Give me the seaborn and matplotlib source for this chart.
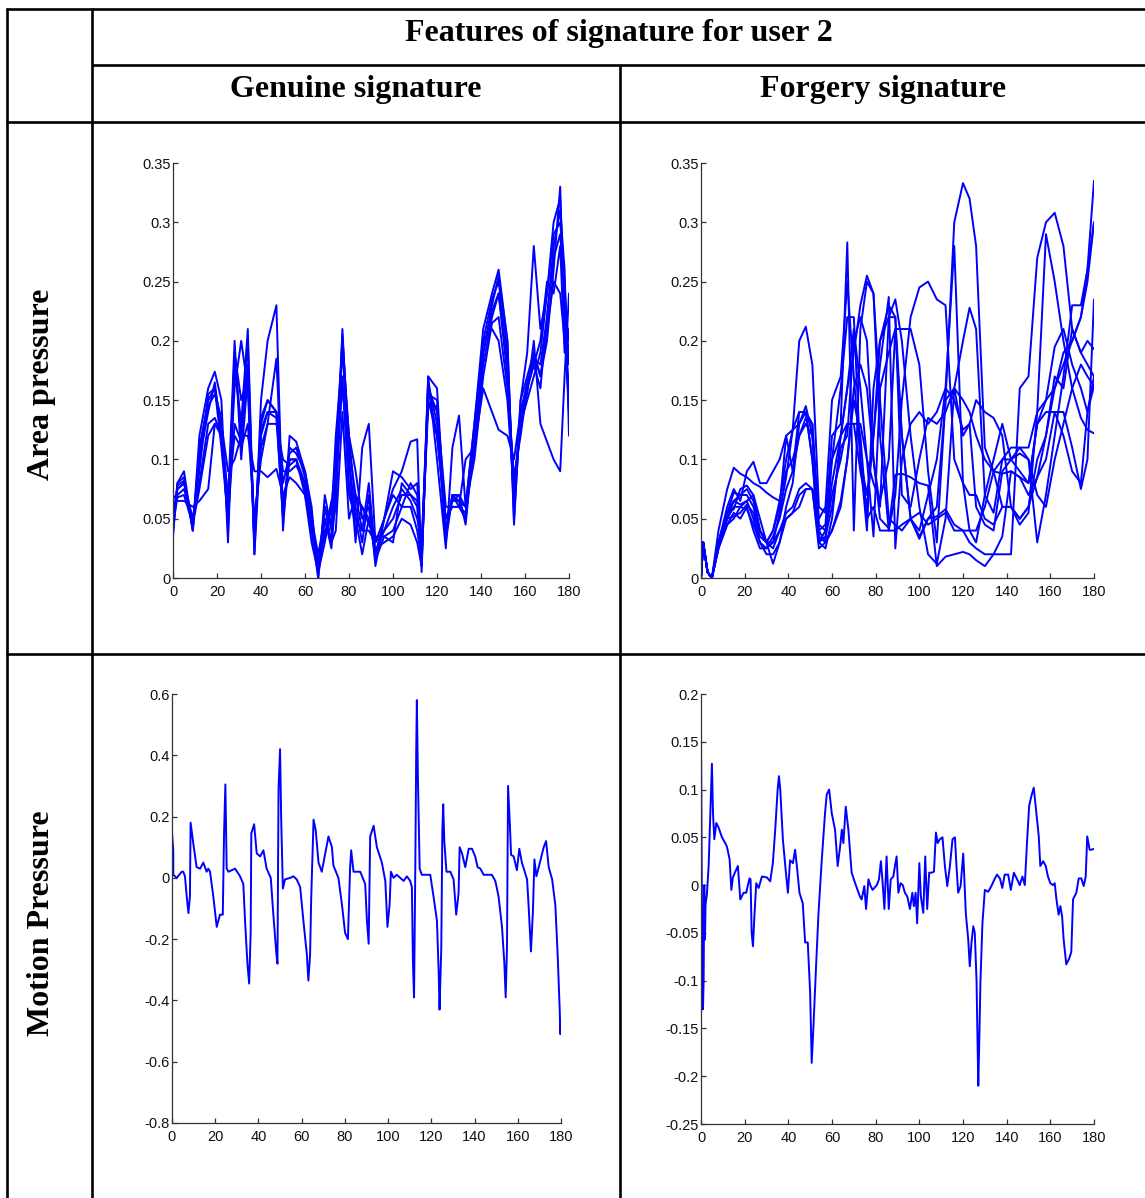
import numpy as np
import pandas as pd
import matplotlib
matplotlib.use("Agg")
import matplotlib.pyplot as plt
from matplotlib import font_manager
import seaborn as sns

sns.set_theme(style="white")
plt.rcParams["font.family"] = ["Liberation Sans", "DejaVu Sans"]
plt.rcParams["text.color"] = "black"

# ---------------------------------------------------------------------------
# Area pressure, genuine signatures (8 samples on a shared time grid)
genuine_area_x = [0, 2, 5, 9, 12, 16, 19, 22, 25, 28, 31, 34, 37, 40, 43, 47, 50, 53, 56, 60,
                  63, 66, 69, 72, 74, 77, 80, 83, 86, 89, 92, 96, 100, 104, 108, 111, 113, 116, 120, 124,
                  127, 130, 133, 137, 141, 145, 148, 152, 155, 158, 161, 164, 167, 170, 173, 176, 178, 180]
genuine_area_1 = [0.04, 0.08, 0.085, 0.04, 0.11, 0.15, 0.16, 0.11, 0.05, 0.19, 0.12, 0.20, 0.02, 0.12, 0.14, 0.135, 0.05, 0.10, 0.10, 0.08,
                  0.04, 0.0, 0.05, 0.03, 0.09, 0.20, 0.08, 0.04, 0.06, 0.05, 0.02, 0.04, 0.05, 0.07, 0.07, 0.06, 0.01, 0.16, 0.14, 0.03,
                  0.07, 0.065, 0.05, 0.12, 0.19, 0.23, 0.255, 0.20, 0.05, 0.14, 0.16, 0.18, 0.16, 0.22, 0.28, 0.31, 0.26, 0.12]
genuine_area_2 = [0.05, 0.075, 0.08, 0.045, 0.10, 0.14, 0.165, 0.12, 0.06, 0.16, 0.20, 0.16, 0.03, 0.13, 0.15, 0.14, 0.08, 0.105, 0.11, 0.085,
                  0.05, 0.01, 0.04, 0.05, 0.12, 0.19, 0.12, 0.06, 0.03, 0.07, 0.01, 0.05, 0.07, 0.06, 0.08, 0.07, 0.02, 0.17, 0.16, 0.04,
                  0.065, 0.07, 0.06, 0.13, 0.20, 0.235, 0.25, 0.19, 0.06, 0.15, 0.17, 0.19, 0.17, 0.20, 0.26, 0.33, 0.21, 0.14]
genuine_area_3 = [0.06, 0.07, 0.075, 0.05, 0.08, 0.13, 0.135, 0.12, 0.07, 0.12, 0.11, 0.13, 0.05, 0.10, 0.13, 0.13, 0.10, 0.095, 0.10, 0.07,
                  0.03, 0.005, 0.03, 0.06, 0.10, 0.16, 0.10, 0.05, 0.04, 0.04, 0.03, 0.04, 0.06, 0.075, 0.065, 0.05, 0.03, 0.15, 0.12, 0.05,
                  0.06, 0.06, 0.055, 0.11, 0.18, 0.22, 0.24, 0.17, 0.08, 0.13, 0.15, 0.17, 0.19, 0.24, 0.29, 0.30, 0.25, 0.18]
genuine_area_4 = [0.07, 0.065, 0.065, 0.06, 0.065, 0.075, 0.13, 0.13, 0.09, 0.10, 0.12, 0.12, 0.09, 0.09, 0.085, 0.092, 0.07, 0.085, 0.08, 0.07,
                  0.04, 0.01, 0.06, 0.03, 0.04, 0.14, 0.05, 0.07, 0.04, 0.08, 0.02, 0.05, 0.09, 0.085, 0.075, 0.08, 0.02, 0.145, 0.145, 0.06,
                  0.06, 0.06, 0.10, 0.11, 0.16, 0.14, 0.125, 0.12, 0.10, 0.14, 0.155, 0.20, 0.13, 0.115, 0.10, 0.09, 0.17, 0.24]
genuine_area_5 = [0.035, 0.08, 0.09, 0.04, 0.12, 0.16, 0.174, 0.15, 0.03, 0.18, 0.13, 0.21, 0.02, 0.15, 0.20, 0.23, 0.04, 0.12, 0.115, 0.09,
                  0.06, 0.0, 0.07, 0.04, 0.06, 0.21, 0.10, 0.03, 0.11, 0.13, 0.03, 0.05, 0.075, 0.09, 0.115, 0.117, 0.005, 0.17, 0.10, 0.025,
                  0.11, 0.137, 0.06, 0.13, 0.21, 0.24, 0.26, 0.20, 0.045, 0.15, 0.19, 0.28, 0.21, 0.24, 0.30, 0.32, 0.23, 0.20]
genuine_area_6 = [0.05, 0.075, 0.08, 0.05, 0.09, 0.155, 0.16, 0.13, 0.065, 0.20, 0.10, 0.17, 0.04, 0.11, 0.13, 0.185, 0.06, 0.10, 0.10, 0.075,
                  0.05, 0.02, 0.05, 0.025, 0.07, 0.20, 0.12, 0.09, 0.05, 0.06, 0.015, 0.035, 0.04, 0.06, 0.06, 0.04, 0.015, 0.155, 0.15, 0.04,
                  0.07, 0.07, 0.045, 0.12, 0.20, 0.21, 0.20, 0.15, 0.07, 0.13, 0.16, 0.18, 0.20, 0.25, 0.24, 0.28, 0.19, 0.21]
genuine_area_7 = [0.045, 0.068, 0.07, 0.045, 0.075, 0.12, 0.13, 0.12, 0.05, 0.13, 0.115, 0.18, 0.035, 0.125, 0.14, 0.14, 0.09, 0.09, 0.095, 0.08,
                  0.045, 0.015, 0.035, 0.065, 0.07, 0.17, 0.07, 0.05, 0.02, 0.05, 0.025, 0.03, 0.035, 0.05, 0.045, 0.03, 0.01, 0.16, 0.12, 0.05,
                  0.065, 0.065, 0.06, 0.10, 0.17, 0.215, 0.22, 0.16, 0.085, 0.12, 0.16, 0.19, 0.17, 0.21, 0.25, 0.24, 0.20, 0.16]
genuine_area_8 = [0.04, 0.078, 0.082, 0.04, 0.105, 0.145, 0.155, 0.135, 0.04, 0.19, 0.15, 0.17, 0.03, 0.135, 0.15, 0.14, 0.05, 0.11, 0.105, 0.09,
                  0.055, 0.005, 0.06, 0.045, 0.10, 0.205, 0.11, 0.07, 0.06, 0.045, 0.035, 0.035, 0.03, 0.08, 0.07, 0.065, 0.02, 0.165, 0.13, 0.035,
                  0.07, 0.06, 0.05, 0.125, 0.19, 0.225, 0.24, 0.18, 0.06, 0.14, 0.165, 0.185, 0.18, 0.22, 0.27, 0.29, 0.24, 0.14]

# ---------------------------------------------------------------------------
# Area pressure, forged signatures (10 samples on a shared time grid)
forgery_area_x = [0, 1, 3, 5, 8, 12, 15, 18, 21, 24, 27, 30, 33, 36, 39, 42, 45, 48, 51, 54,
                  57, 60, 64, 67, 70, 73, 76, 79, 82, 86, 89, 92, 96, 100, 104, 108, 112, 116, 120, 123,
                  126, 130, 134, 138, 142, 146, 150, 154, 158, 162, 166, 170, 174, 177, 180]
forgery_area_1 = [0.0, 0.03, 0.005, 0.0, 0.04, 0.075, 0.093, 0.088, 0.085, 0.08, 0.077, 0.072, 0.068, 0.065, 0.10, 0.125, 0.20, 0.212, 0.18, 0.06,
                  0.055, 0.10, 0.16, 0.22, 0.22, 0.10, 0.04, 0.16, 0.20, 0.23, 0.22, 0.12, 0.05, 0.04, 0.07, 0.10, 0.16, 0.28, 0.08, 0.04,
                  0.04, 0.06, 0.09, 0.10, 0.10, 0.09, 0.08, 0.13, 0.15, 0.16, 0.18, 0.20, 0.22, 0.25, 0.30]
forgery_area_2 = [0.0, 0.03, 0.005, 0.0, 0.03, 0.06, 0.075, 0.065, 0.09, 0.098, 0.08, 0.08, 0.09, 0.10, 0.12, 0.125, 0.13, 0.145, 0.12, 0.04,
                  0.045, 0.12, 0.13, 0.283, 0.04, 0.21, 0.25, 0.24, 0.12, 0.04, 0.04, 0.045, 0.05, 0.055, 0.045, 0.05, 0.055, 0.04, 0.04, 0.04,
                  0.03, 0.07, 0.10, 0.13, 0.10, 0.11, 0.11, 0.14, 0.29, 0.25, 0.20, 0.16, 0.135, 0.125, 0.122]
forgery_area_3 = [0.0, 0.03, 0.005, 0.0, 0.03, 0.055, 0.072, 0.07, 0.075, 0.065, 0.04, 0.03, 0.012, 0.03, 0.06, 0.08, 0.13, 0.14, 0.13, 0.03,
                  0.04, 0.08, 0.12, 0.13, 0.13, 0.13, 0.10, 0.035, 0.16, 0.19, 0.21, 0.12, 0.05, 0.033, 0.05, 0.06, 0.15, 0.30, 0.333, 0.32,
                  0.28, 0.11, 0.09, 0.06, 0.06, 0.05, 0.06, 0.10, 0.12, 0.17, 0.16, 0.21, 0.19, 0.20, 0.193]
forgery_area_4 = [0.0, 0.03, 0.005, 0.0, 0.025, 0.05, 0.065, 0.062, 0.065, 0.05, 0.03, 0.025, 0.035, 0.05, 0.075, 0.09, 0.14, 0.14, 0.10, 0.035,
                  0.03, 0.10, 0.12, 0.16, 0.21, 0.16, 0.10, 0.08, 0.065, 0.10, 0.21, 0.21, 0.21, 0.18, 0.09, 0.03, 0.15, 0.16, 0.12, 0.13,
                  0.15, 0.14, 0.135, 0.12, 0.06, 0.045, 0.055, 0.14, 0.15, 0.195, 0.21, 0.18, 0.16, 0.14, 0.162]
forgery_area_5 = [0.0, 0.03, 0.005, 0.0, 0.03, 0.05, 0.06, 0.06, 0.065, 0.07, 0.05, 0.03, 0.025, 0.04, 0.055, 0.06, 0.075, 0.08, 0.075, 0.03,
                  0.025, 0.05, 0.12, 0.16, 0.19, 0.23, 0.255, 0.24, 0.15, 0.05, 0.045, 0.04, 0.05, 0.035, 0.05, 0.052, 0.058, 0.045, 0.04, 0.03,
                  0.025, 0.02, 0.02, 0.02, 0.02, 0.16, 0.17, 0.27, 0.30, 0.308, 0.28, 0.21, 0.19, 0.18, 0.17]
forgery_area_6 = [0.0, 0.03, 0.005, 0.0, 0.025, 0.045, 0.055, 0.05, 0.06, 0.04, 0.025, 0.025, 0.03, 0.04, 0.05, 0.055, 0.07, 0.075, 0.075, 0.04,
                  0.03, 0.04, 0.06, 0.10, 0.16, 0.18, 0.16, 0.10, 0.05, 0.042, 0.087, 0.088, 0.085, 0.08, 0.078, 0.01, 0.018, 0.02, 0.022, 0.02,
                  0.015, 0.01, 0.02, 0.035, 0.09, 0.085, 0.07, 0.085, 0.10, 0.14, 0.14, 0.11, 0.075, 0.10, 0.235]
forgery_area_7 = [0.0, 0.03, 0.005, 0.0, 0.03, 0.05, 0.052, 0.055, 0.062, 0.055, 0.035, 0.03, 0.04, 0.065, 0.09, 0.10, 0.12, 0.135, 0.13, 0.045,
                  0.04, 0.07, 0.10, 0.13, 0.13, 0.09, 0.06, 0.12, 0.18, 0.237, 0.025, 0.10, 0.13, 0.14, 0.13, 0.14, 0.16, 0.15, 0.125, 0.13,
                  0.06, 0.045, 0.04, 0.09, 0.10, 0.105, 0.10, 0.03, 0.07, 0.12, 0.17, 0.23, 0.23, 0.26, 0.335]
forgery_area_8 = [0.0, 0.03, 0.005, 0.0, 0.025, 0.045, 0.05, 0.06, 0.058, 0.045, 0.03, 0.02, 0.02, 0.03, 0.05, 0.055, 0.06, 0.075, 0.075, 0.025,
                  0.03, 0.04, 0.065, 0.10, 0.15, 0.12, 0.05, 0.06, 0.04, 0.04, 0.07, 0.15, 0.22, 0.245, 0.25, 0.235, 0.23, 0.10, 0.08, 0.07,
                  0.07, 0.05, 0.045, 0.06, 0.06, 0.05, 0.06, 0.085, 0.12, 0.16, 0.19, 0.20, 0.22, 0.26, 0.30]
forgery_area_9 = [0.0, 0.03, 0.005, 0.0, 0.03, 0.055, 0.058, 0.075, 0.078, 0.07, 0.04, 0.03, 0.03, 0.055, 0.085, 0.125, 0.14, 0.14, 0.10, 0.03,
                  0.035, 0.06, 0.11, 0.12, 0.20, 0.22, 0.20, 0.10, 0.06, 0.22, 0.235, 0.20, 0.12, 0.06, 0.02, 0.012, 0.05, 0.16, 0.20, 0.228,
                  0.21, 0.07, 0.055, 0.10, 0.11, 0.11, 0.10, 0.07, 0.06, 0.10, 0.13, 0.16, 0.18, 0.17, 0.162]
forgery_area_10 = [0.0, 0.03, 0.005, 0.0, 0.03, 0.055, 0.065, 0.07, 0.07, 0.06, 0.04, 0.03, 0.04, 0.06, 0.12, 0.09, 0.12, 0.13, 0.12, 0.05,
                   0.06, 0.15, 0.17, 0.25, 0.17, 0.10, 0.07, 0.12, 0.20, 0.22, 0.22, 0.07, 0.06, 0.10, 0.135, 0.13, 0.14, 0.16, 0.15, 0.14,
                   0.12, 0.10, 0.09, 0.088, 0.09, 0.085, 0.08, 0.13, 0.14, 0.14, 0.12, 0.09, 0.08, 0.14, 0.17]

# ---------------------------------------------------------------------------
# Motion pressure, genuine signature
genuine_motion_x = [0, 0.6, 0.6, 2.2, 4.5, 5.2, 6.0, 6.8, 7.6, 8.3, 8.6, 9.9, 11.4, 13.0, 14.5, 16.0, 16.8, 17.6, 19.1, 20.7,
                    22.2, 23.5, 24.1, 24.7, 25.3, 26.1, 29.2, 31.5, 33.0, 33.8, 34.9, 35.7, 36.4, 36.7, 38.0, 39.2, 40.8, 42.3, 43.8, 45.7,
                    46.9, 48.2, 48.8, 49.3, 50.0, 50.5, 51.3, 52.3, 54.7, 56.2, 57.7, 59.3, 60.8, 62.4, 63.1, 63.9, 64.4, 65.5, 66.5, 67.8,
                    69.3, 72.4, 74.0, 74.7, 77.0, 78.6, 80.1, 81.4, 82.4, 82.9, 84.0, 87.1, 89.4, 90.2, 91.0, 91.7, 93.3, 94.8, 97.1, 98.7,
                    99.7, 100.7, 101.3, 102.5, 104.0, 107.2, 108.7, 110.2, 111.0, 111.5, 112.0, 112.6, 113.0, 113.3, 113.8, 114.6, 115.6, 119.5, 121.0, 122.6,
                    123.4, 123.8, 124.6, 125.1, 125.5, 126.0, 127.0, 128.8, 130.3, 131.5, 132.6, 133.1, 134.2, 135.7, 137.3, 138.8, 140.3, 141.4, 142.7, 144.2,
                    148.0, 149.6, 151.1, 152.7, 153.8, 154.4, 155.0, 155.5, 156.3, 156.9, 158.1, 159.6, 160.7, 161.9, 164.3, 165.0, 166.1, 167.0, 167.7, 168.6,
                    169.7, 172.0, 173.1, 174.3, 175.9, 177.4, 178.5, 179.4, 179.7, 180.0]
genuine_motion_y = [0.146, 0.09, 0.01, 0.0, 0.02, 0.02, 0.005, -0.06, -0.115, -0.06, 0.18, 0.11, 0.035, 0.03, 0.05, 0.02, 0.03, 0.02, -0.06, -0.16,
                    -0.12, -0.12, 0.15, 0.305, 0.03, 0.02, 0.03, 0.005, -0.02, -0.14, -0.28, -0.345, -0.18, 0.145, 0.175, 0.08, 0.07, 0.09, 0.03, 0.0,
                    -0.12, -0.24, -0.28, 0.29, 0.42, 0.2, -0.035, -0.005, 0.0, 0.005, -0.005, -0.03, -0.14, -0.25, -0.335, -0.25, -0.07, 0.19, 0.155, 0.05,
                    0.02, 0.135, 0.10, 0.04, 0.0, -0.085, -0.18, -0.2, 0.03, 0.09, 0.02, 0.02, -0.02, -0.14, -0.215, 0.135, 0.17, 0.10, 0.05, -0.01,
                    -0.16, -0.085, 0.02, 0.0, 0.01, -0.01, 0.005, -0.01, -0.03, -0.28, -0.39, 0.05, 0.41, 0.58, 0.32, 0.03, 0.01, 0.01, -0.06, -0.14,
                    -0.31, -0.43, -0.23, 0.155, 0.24, 0.12, 0.02, 0.02, -0.005, -0.12, -0.05, 0.10, 0.08, 0.035, 0.095, 0.095, 0.07, 0.035, 0.03, 0.01,
                    0.01, -0.01, -0.06, -0.16, -0.28, -0.39, -0.23, 0.30, 0.18, 0.075, 0.07, 0.025, 0.095, 0.05, -0.005, -0.09, -0.24, -0.11, 0.06, 0.005,
                    0.035, 0.10, 0.12, 0.035, -0.005, -0.09, -0.26, -0.43, -0.51, -0.46]

# ---------------------------------------------------------------------------
# Motion pressure, forged signature
forgery_motion_x = [0, 0.1, 0.3, 0.6, 0.9, 1.2, 1.5, 1.8, 2.1, 2.7, 3.5, 4.0, 4.6, 5.0, 5.5, 6.1, 7.0, 8.1, 9.6, 11.1,
                    11.9, 13.1, 13.9, 14.6, 15.7, 16.9, 18.0, 19.5, 20.7, 22.2, 22.7, 23.2, 23.8, 24.4, 25.3, 26.4, 27.9, 30.2, 31.7, 32.9,
                    34.0, 35.1, 35.7, 36.3, 37.5, 38.6, 39.8, 40.8, 42.1, 43.1, 43.9, 45.1, 46.6, 47.7, 48.9, 50.0, 50.7, 51.5, 52.7, 53.8,
                    55.3, 56.8, 57.6, 58.7, 59.9, 61.4, 62.6, 63.7, 64.5, 65.2, 66.3, 67.5, 69.0, 70.6, 72.8, 73.6, 74.8, 75.6, 76.7, 77.7,
                    78.6, 80.5, 81.5, 82.4, 83.2, 84.0, 85.0, 86.0, 86.9, 88.1, 88.9, 89.6, 90.4, 91.4, 92.4, 93.4, 94.5, 95.7, 96.8, 97.5,
                    98.3, 99.0, 100.0, 100.7, 101.8, 102.7, 103.6, 104.5, 105.6, 106.7, 107.6, 108.4, 109.4, 110.6, 111.7, 112.8, 114.0, 115.2, 116.3, 117.0,
                    117.8, 118.9, 120.1, 120.5, 121.3, 122.4, 123.1, 123.9, 124.7, 125.4, 126.2, 127.0, 127.4, 128.0, 128.9, 130.0, 131.5, 133.0, 134.6, 135.6,
                    136.9, 138.0, 139.1, 140.7, 141.9, 143.3, 144.8, 146.0, 147.2, 148.3, 149.4, 150.3, 151.3, 152.4, 153.6, 154.7, 155.4, 156.7, 157.9, 158.9,
                    160.0, 161.2, 162.0, 162.8, 163.8, 164.6, 165.4, 166.1, 167.3, 168.6, 169.6, 170.4, 171.9, 173.0, 174.2, 175.3, 176.2, 176.9, 178.0, 178.8,
                    180.0]
forgery_motion_y = [0.152, 0.117, 0.02, -0.064, -0.13, -0.10, 0.0, -0.057, -0.02, -0.01, 0.02, 0.055, 0.10, 0.127, 0.075, 0.048, 0.065, 0.06, 0.05, 0.044,
                    0.04, 0.027, -0.005, 0.008, 0.014, 0.02, -0.015, -0.008, -0.008, 0.007, 0.006, -0.05, -0.064, -0.035, 0.002, -0.003, 0.009, 0.008, 0.004, 0.023,
                    0.058, 0.10, 0.114, 0.10, 0.048, 0.02, -0.008, 0.026, 0.023, 0.037, 0.02, -0.008, -0.019, -0.06, -0.06, -0.113, -0.186, -0.148, -0.085, -0.03,
                    0.026, 0.075, 0.095, 0.10, 0.075, 0.058, 0.02, 0.04, 0.058, 0.044, 0.082, 0.058, 0.013, 0.002, -0.012, -0.015, -0.001, -0.025, 0.006, -0.001,
                    -0.005, 0.0, 0.006, 0.025, 0.002, -0.025, 0.03, -0.025, 0.006, 0.009, 0.021, 0.03, -0.008, 0.002, 0.0, -0.008, -0.012, -0.025, -0.008, -0.022,
                    -0.008, -0.04, 0.023, -0.012, -0.029, 0.03, -0.025, 0.013, 0.013, 0.014, 0.055, 0.044, 0.048, 0.05, 0.02, -0.001, 0.02, 0.048, 0.05, 0.02,
                    -0.008, -0.001, 0.033, 0.013, -0.03, -0.057, -0.085, -0.06, -0.043, -0.05, -0.10, -0.21, -0.169, -0.10, -0.04, -0.005, -0.007, -0.001, 0.007, 0.011,
                    0.007, -0.003, 0.011, 0.011, -0.005, 0.013, 0.006, 0.0, 0.009, 0.0, 0.048, 0.083, 0.093, 0.102, 0.075, 0.051, 0.02, 0.025, 0.02, 0.009,
                    0.002, 0.0, 0.002, -0.015, -0.031, -0.022, -0.033, -0.057, -0.083, -0.077, -0.07, -0.015, -0.008, 0.007, 0.007, -0.001, 0.009, 0.051, 0.037, 0.037,
                    0.038]

x_ticks = [0, 20, 40, 60, 80, 100, 120, 140, 160, 180]
area_ticks = [0, 0.05, 0.1, 0.15, 0.2, 0.25, 0.3, 0.35]
area_tick_labels = ["0", "0.05", "0.1", "0.15", "0.2", "0.25", "0.3", "0.35"]
gm_ticks = [-0.8, -0.6, -0.4, -0.2, 0, 0.2, 0.4, 0.6]
gm_tick_labels = ["-0.8", "-0.6", "-0.4", "-0.2", "0", "0.2", "0.4", "0.6"]
fm_ticks = [-0.25, -0.2, -0.15, -0.1, -0.05, 0, 0.05, 0.1, 0.15, 0.2]
fm_tick_labels = ["-0.25", "-0.2", "-0.15", "-0.1", "-0.05", "0", "0.05", "0.1", "0.15", "0.2"]

title_text = "Features of signature for user 2"
column_titles = ["Genuine signature", "Forgery signature"]
row_titles = ["Area pressure", "Motion Pressure"]

LINE_BLUE = "#0000ff"
W, H = 1145, 1198

# Narrow sans for tick labels when available
installed = {f.name for f in font_manager.fontManager.ttflist}
if "Liberation Sans Narrow" in installed:
    TICK_FAMILY, TICK_SIZE = ["Liberation Sans Narrow", "DejaVu Sans"], 11.5
else:
    TICK_FAMILY, TICK_SIZE = ["Liberation Sans", "DejaVu Sans"], 10.5


def long_frame(x, series):
    frames = []
    for i, ys in enumerate(series):
        frames.append(pd.DataFrame({"x": x, "y": ys, "sample": i}))
    return pd.concat(frames, ignore_index=True)


def panel(fig, left, right, top, bottom):
    return fig.add_axes([left / W, 1 - bottom / H, (right - left) / W, (bottom - top) / H])


def style_axis(ax, ylim, yticks, ylabels):
    ax.set_xlim(0, 180)
    ax.set_ylim(*ylim)
    ax.set_xticks(x_ticks)
    ax.set_xticklabels([str(t) for t in x_ticks])
    ax.set_yticks(yticks)
    ax.set_yticklabels(ylabels)
    ax.set_xlabel("")
    ax.set_ylabel("")
    for side in ("top", "right"):
        ax.spines[side].set_visible(False)
    for side in ("left", "bottom"):
        ax.spines[side].set_color("#333333")
        ax.spines[side].set_linewidth(0.9)
    ax.tick_params(direction="in", length=3.5, width=0.9, color="#333333",
                   labelcolor="#111111", left=True, bottom=True)
    ax.tick_params(axis="x", pad=5)
    ax.tick_params(axis="y", pad=1.5)
    ax.patch.set_alpha(0)
    for lbl in ax.get_xticklabels() + ax.get_yticklabels():
        lbl.set_family(TICK_FAMILY)
        lbl.set_fontsize(TICK_SIZE)


fig = plt.figure(figsize=(W / 100, H / 100), dpi=100)

# Table grid behind the panels
grid_ax = fig.add_axes([0, 0, 1, 1])
grid_ax.set_xlim(0, W)
grid_ax.set_ylim(H, 0)
grid_ax.axis("off")
rule = dict(color="black", lw=1.9, solid_capstyle="butt")
grid_ax.plot([7, 7], [8, H], **rule)
grid_ax.plot([92, 92], [8, H], **rule)
grid_ax.plot([620, 620], [65, H], **rule)
grid_ax.plot([6, W], [9, 9], **rule)
grid_ax.plot([92, W], [65, 65], **rule)
grid_ax.plot([6, W], [122, 122], **rule)
grid_ax.plot([6, W], [654, 654], **rule)

serif = ["Liberation Serif", "DejaVu Serif"]
head = dict(fontsize=23, fontweight="bold", family=serif, color="black")
grid_ax.text(619, 33, title_text, ha="center", va="center", **head)
grid_ax.text(356, 90, column_titles[0], ha="center", va="center", **head)
grid_ax.text(883, 90, column_titles[1], ha="center", va="center", **head)
grid_ax.text(42, 384, row_titles[0], ha="center", va="center", rotation=90, **head)
grid_ax.text(42, 923, row_titles[1], ha="center", va="center", rotation=90, **head)

# Area pressure, genuine
ax1 = panel(fig, 173, 569, 163, 578)
df_ga = long_frame(genuine_area_x, [genuine_area_1, genuine_area_2, genuine_area_3, genuine_area_4,
                                    genuine_area_5, genuine_area_6, genuine_area_7, genuine_area_8])
sns.lineplot(data=df_ga, x="x", y="y", units="sample", estimator=None, sort=False,
             color=LINE_BLUE, lw=1.4, ax=ax1)
style_axis(ax1, (0, 0.35), area_ticks, area_tick_labels)

# Area pressure, forgery
ax2 = panel(fig, 701, 1094, 163, 578)
df_fa = long_frame(forgery_area_x, [forgery_area_1, forgery_area_2, forgery_area_3, forgery_area_4,
                                    forgery_area_5, forgery_area_6, forgery_area_7, forgery_area_8,
                                    forgery_area_9, forgery_area_10])
sns.lineplot(data=df_fa, x="x", y="y", units="sample", estimator=None, sort=False,
             color=LINE_BLUE, lw=1.4, ax=ax2)
style_axis(ax2, (0, 0.35), area_ticks, area_tick_labels)

# Motion pressure, genuine
ax3 = panel(fig, 172, 561, 694, 1123)
sns.lineplot(x=genuine_motion_x, y=genuine_motion_y, sort=False, estimator=None,
             color=LINE_BLUE, lw=1.4, ax=ax3)
style_axis(ax3, (-0.8, 0.6), gm_ticks, gm_tick_labels)

# Motion pressure, forgery
ax4 = panel(fig, 701, 1094, 694, 1124)
sns.lineplot(x=forgery_motion_x, y=forgery_motion_y, sort=False, estimator=None,
             color=LINE_BLUE, lw=1.4, ax=ax4)
style_axis(ax4, (-0.25, 0.2), fm_ticks, fm_tick_labels)

fig.savefig("out.png", dpi=100, facecolor="white")
